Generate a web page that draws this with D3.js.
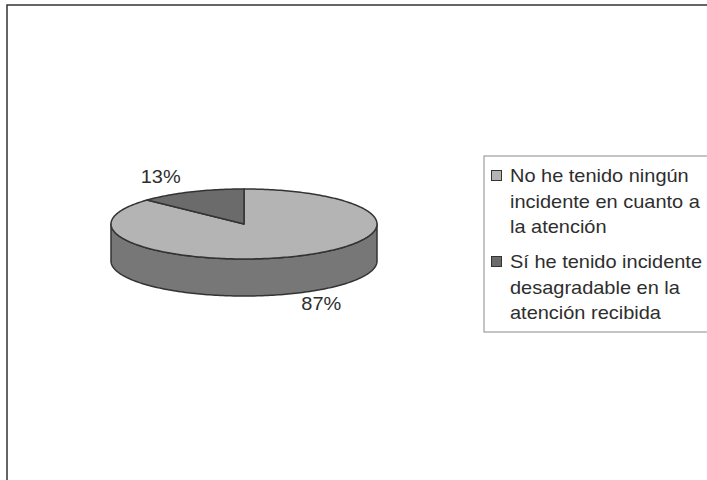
<!DOCTYPE html>
<html>
<head>
<meta charset="utf-8">
<script src="https://cdn.jsdelivr.net/npm/d3@7"></script>
<style>
  html, body { margin: 0; padding: 0; background: #fff; }
  svg { display: block; }
  text { font-family: "Liberation Sans", Arial, sans-serif; fill: #2e2e2e; }
</style>
</head>
<body>
<script>
// Survey answers and their shares (percent)
const categories = [
  "No he tenido ningún incidente en cuanto a la atención",
  "Sí he tenido incidente desagradable en la atención recibida"
];
const legendLines = [
  ["No he tenido ningún", "incidente en cuanto a", "la atención"],
  ["Sí he tenido incidente", "desagradable en la", "atención recibida"]
];
const values = [87, 13];
const percentLabels = ["87%", "13%"];
const topColors = ["#b4b4b4", "#6b6b6b"];
const sideColors = ["#777777", "#4a4a4a"];

const W = 707, H = 480;
const svg = d3.select("body").append("svg").attr("width", W).attr("height", H);

// Chart frame (runs off the right and bottom edges)
svg.append("rect")
  .attr("x", 7).attr("y", 5).attr("width", 720).attr("height", 500)
  .attr("fill", "#fff").attr("stroke", "#333").attr("stroke-width", 1.5);

// Elliptical pie geometry
const cx = 244, cy = 224, rx = 133, ry = 35, depth = 37;
const pie = d3.pie().sort(null).value(d => d).startAngle(0).endAngle(2 * Math.PI);
const arcs = pie(values);

const ex = a => cx + rx * Math.sin(a);
const ey = (a, dy = 0) => cy - ry * Math.cos(a) + dy;

function arcPoints(a0, a1, dy) {
  const n = Math.max(2, Math.ceil(Math.abs(a1 - a0) / 0.02));
  const pts = [];
  for (let i = 0; i <= n; i++) {
    const a = a0 + (a1 - a0) * i / n;
    pts.push([ex(a), ey(a, dy)]);
  }
  return pts;
}

const line = d3.line();
const pieG = svg.append("g");

// Front wall: only the part facing the viewer (90°..270°)
arcs.forEach((d, i) => {
  const a0 = Math.max(d.startAngle, Math.PI / 2);
  const a1 = Math.min(d.endAngle, 3 * Math.PI / 2);
  if (a1 <= a0) return;
  const pts = arcPoints(a0, a1, 0).concat(arcPoints(a1, a0, depth));
  pieG.append("path")
    .attr("d", line(pts) + "Z")
    .attr("fill", sideColors[i])
    .attr("stroke", "#333").attr("stroke-width", 1.5)
    .attr("stroke-linejoin", "round");
});

// Top faces
arcs.forEach((d, i) => {
  const pts = [[cx, cy]].concat(arcPoints(d.startAngle, d.endAngle, 0));
  pieG.append("path")
    .attr("d", line(pts) + "Z")
    .attr("fill", topColors[i])
    .attr("stroke", "#333").attr("stroke-width", 1.5)
    .attr("stroke-linejoin", "round");
});

// Text is drawn slightly widened horizontally
const sx = 1.11;
function addText(g, x, y, str, anchor, size) {
  return g.append("text")
    .attr("transform", `translate(${x},${y}) scale(${sx},1)`)
    .attr("text-anchor", anchor)
    .attr("font-size", size)
    .text(str);
}

// Percentage labels outside the slices
arcs.forEach((d, i) => {
  const mid = (d.startAngle + d.endAngle) / 2;
  const lx = cx + rx * 1.52 * Math.sin(mid);
  const front = Math.cos(mid) < 0;
  const ly = cy - ry * 1.45 * Math.cos(mid) + (front ? depth - 4 : 0) + 6;
  addText(svg, lx - 3, ly, percentLabels[i], "middle", 18);
});

// Legend
const legG = svg.append("g");
legG.append("rect")
  .attr("x", 484).attr("y", 156).attr("width", 240).attr("height", 176)
  .attr("fill", "#fff").attr("stroke", "#8a8a8a").attr("stroke-width", 1);

const itemY = d3.scaleOrdinal().domain(categories).range([182, 268]);
categories.forEach((c, i) => {
  const y0 = itemY(c);
  legG.append("rect")
    .attr("x", 491.5).attr("y", y0 - 11.5).attr("width", 10).attr("height", 10)
    .attr("fill", topColors[i]).attr("stroke", "#333").attr("stroke-width", 1);
  legendLines[i].forEach((t, j) => {
    addText(legG, 510, y0 + j * 25.7, t, "start", 18);
  });
});
</script>
</body>
</html>
